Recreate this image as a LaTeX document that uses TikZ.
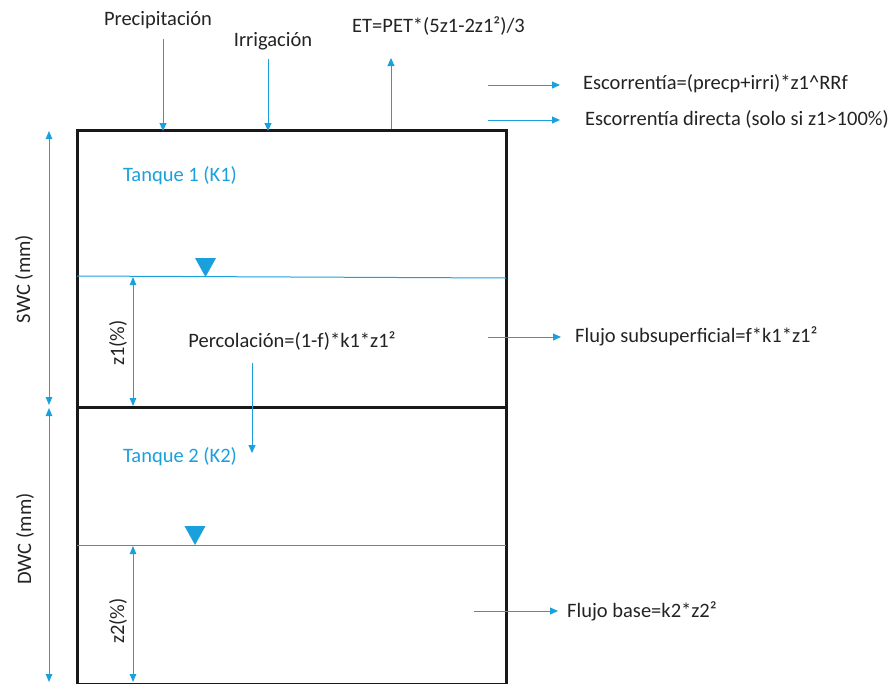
\documentclass[tikz,border=0pt]{standalone}
\usepackage{fontspec}
\setmainfont{Carlito}
\usetikzlibrary{arrows.meta}
\definecolor{flow}{RGB}{27,160,222}
\definecolor{ink}{RGB}{35,35,35}
\tikzset{
  lbl/.style={font=\fontsize{20.5}{22}\selectfont, text=ink, inner sep=0pt},
  tanklbl/.style={font=\fontsize{20.5}{22}\selectfont, text=flow, inner sep=0pt},
  flux/.style={draw=flow, line width=1pt, -{Triangle[length=8pt,width=7pt]}},
  dim/.style={draw=flow, line width=1pt, {Triangle[length=8pt,width=6.5pt]}-{Triangle[length=8pt,width=6.5pt]}},
  wall/.style={draw=black!90, line width=3pt},
  level/.style={draw=flow, line width=1pt},
  marker/.style={fill=flow, draw=none}
}
\begin{document}
\begin{tikzpicture}[x=1pt, y=-1pt]
\useasboundingbox (0,0) rectangle (891,683);

% tank walls
\coordinate (tl) at (77,130);
\coordinate (tr) at (506,130);
\coordinate (ml) at (77,407);
\coordinate (mr) at (506,407);
\coordinate (bl) at (77,684);
\coordinate (br) at (506,684);
\draw[wall] (bl) -- (tl) -- (tr) -- (br) -- cycle;
\draw[wall] (ml) -- (mr);

% tank labels
\node[tanklbl] (t1) at (180,176) {Tanque 1 (K1)};
\node[tanklbl] (t2) at (180,457) {Tanque 2 (K2)};

% water levels
\coordinate (w1l) at (77,276);
\coordinate (w1r) at (506,278);
\draw[level] (w1l) -- (w1r);
\fill[marker] (195,258) -- (216,258) -- (205.5,277) -- cycle;
\coordinate (w2l) at (77,545);
\coordinate (w2r) at (506,545);
\draw[level] (w2l) -- (w2r);
\fill[marker] (184.5,526) -- (205.5,526) -- (195,545) -- cycle;

% inputs on top
\node[lbl] (prec) at (158,20) {Precipitación};
\node[lbl] (irr) at (273,41) {Irrigación};
\node[lbl, anchor=west] (et) at (352,26) {ET=PET*(5z1-2z1²)/3};
\coordinate (precA) at (163,39);
\coordinate (precB) at (163,131);
\coordinate (irrA) at (268,59);
\coordinate (irrB) at (268,131);
\coordinate (etA) at (391,129);
\coordinate (etB) at (391,58);
\draw[flux] (precA) -- (precB);
\draw[flux] (irrA) -- (irrB);
\draw[flux] (etA) -- (etB);

% runoff
\coordinate (r1a) at (488,85);
\coordinate (r1b) at (560,85);
\node[lbl, anchor=west] (run1) at (583,84) {Escorrentía=(precp+irri)*z1\^{}RRf};
\draw[flux] (r1a) -- (r1b);
\coordinate (r2a) at (488,120);
\coordinate (r2b) at (560,120);
\node[lbl, anchor=west] (run2) at (585,119) {Escorrentía directa (solo si z1>100\%)};
\draw[flux] (r2a) -- (r2b);

% percolation
\node[lbl] (perc) at (292,341) {Percolación=(1-f)*k1*z1²};
\coordinate (pa) at (252,363);
\coordinate (pb) at (252,453);
\draw[flux] (pa) -- (pb);

% subsurface flow
\coordinate (sa) at (488,337);
\coordinate (sb) at (561,337);
\node[lbl, anchor=west] (sub) at (575,336) {Flujo subsuperficial=f*k1*z1²};
\draw[flux] (sa) -- (sb);

% base flow
\coordinate (ba) at (474,611);
\coordinate (bb) at (558,611);
\node[lbl, anchor=west] (base) at (567,611) {Flujo base=k2*z2²};
\draw[flux] (ba) -- (bb);

% storage dimensions
\coordinate (s1) at (49,131);
\coordinate (s2) at (49,405);
\draw[dim] (s1) -- (s2);
\node[lbl, rotate=90] (swc) at (24,279) {SWC (mm)};
\coordinate (d1) at (49,408);
\coordinate (d2) at (49,682);
\draw[dim] (d1) -- (d2);
\node[lbl, rotate=90] (dwc) at (25,539) {DWC (mm)};

% level dimensions
\coordinate (z1a) at (133,277);
\coordinate (z1b) at (133,406);
\draw[dim] (z1a) -- (z1b);
\node[lbl, rotate=90] (z1) at (118,343) {z1(\%)};
\coordinate (z2a) at (133,546);
\coordinate (z2b) at (133,682);
\draw[dim] (z2a) -- (z2b);
\node[lbl, rotate=90] (z2) at (118,621) {z2(\%)};
\end{tikzpicture}
\end{document}
